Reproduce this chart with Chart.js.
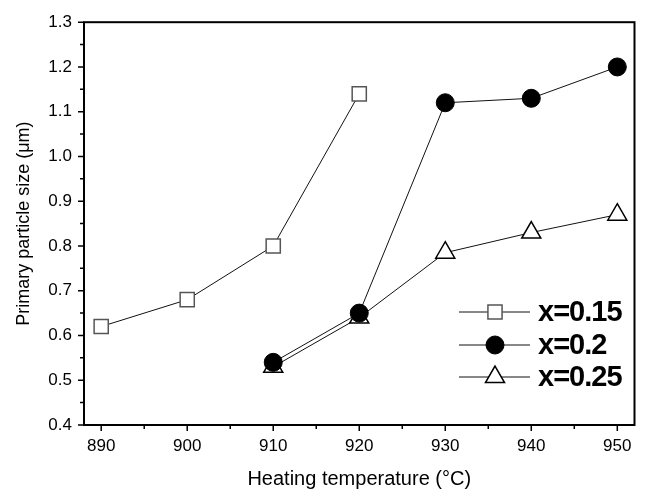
<!DOCTYPE html>
<html>
<head>
<meta charset="utf-8">
<script src="https://cdn.jsdelivr.net/npm/chart.js@4.4.0/dist/chart.umd.min.js"></script>
<style>
  html, body { margin: 0; padding: 0; background: #fff; }
</style>
</head>
<body>
<canvas id="grafico" width="647" height="492"></canvas>
<script>
// dados
const temps015 = [890, 900, 910, 920];
const size015 = [0.62, 0.68, 0.80, 1.14];
const temps02 = [910, 920, 930, 940, 950];
const size02 = [0.54, 0.65, 1.12, 1.13, 1.20];
const temps025 = [910, 920, 930, 940, 950];
const size025 = [0.53, 0.64, 0.785, 0.83, 0.87];
const seriesLabels = ['x=0.15', 'x=0.2', 'x=0.25'];
const xTicks = [890, 900, 910, 920, 930, 940, 950];
const yTicks = [0.4, 0.5, 0.6, 0.7, 0.8, 0.9, 1.0, 1.1, 1.2, 1.3];

const FONT = 'Arial, "Liberation Sans", sans-serif';
Chart.defaults.font.family = FONT;
Chart.defaults.color = '#000';

const toPoints = (xs, ys) => xs.map((v, i) => ({ x: v, y: ys[i] }));

// moldura, ticks maiores/menores e legenda dentro do gráfico
const framePlugin = {
    id: 'frame',
    afterDraw(chart) {
        const { ctx, chartArea: a, scales: { x, y } } = chart;
        ctx.save();
        ctx.strokeStyle = '#000';
        ctx.lineWidth = 2;
        ctx.strokeRect(a.left, a.top, a.right - a.left, a.bottom - a.top);

        ctx.lineWidth = 1.5;
        ctx.beginPath();
        xTicks.forEach((v, i) => {
            const px = x.getPixelForValue(v);
            ctx.moveTo(px, a.bottom); ctx.lineTo(px, a.bottom + 6);
            if (i < xTicks.length - 1) {
                const pm = x.getPixelForValue(v + 5);
                ctx.moveTo(pm, a.bottom); ctx.lineTo(pm, a.bottom + 4);
            }
        });
        yTicks.forEach((v, i) => {
            const py = y.getPixelForValue(v);
            ctx.moveTo(a.left, py); ctx.lineTo(a.left - 6, py);
            if (i < yTicks.length - 1) {
                const pm = y.getPixelForValue(v + 0.05);
                ctx.moveTo(a.left, pm); ctx.lineTo(a.left - 4, pm);
            }
        });
        ctx.stroke();

        // legenda
        const rows = [312, 345, 377];
        chart.data.datasets.forEach((ds, i) => {
            const ly = rows[i];
            ctx.strokeStyle = ds.borderColor;
            ctx.lineWidth = ds.borderWidth;
            ctx.beginPath();
            ctx.moveTo(459, ly); ctx.lineTo(530, ly);
            ctx.stroke();
            ctx.fillStyle = ds.pointBackgroundColor;
            ctx.strokeStyle = ds.pointBorderColor;
            ctx.lineWidth = ds.pointBorderWidth;
            Chart.helpers.drawPoint(ctx, {
                pointStyle: ds.pointStyle,
                radius: ds.pointRadius,
                rotation: 0,
                borderWidth: ds.pointBorderWidth
            }, 495, ly);
            ctx.fillStyle = '#000';
            ctx.font = 'bold 29px ' + FONT;
            ctx.letterSpacing = '-1px';
            ctx.textBaseline = 'middle';
            ctx.textAlign = 'left';
            ctx.fillText(seriesLabels[i], 538, ly + 1);
        });
        ctx.restore();
    }
};

new Chart(document.getElementById('grafico'), {
    type: 'line',
    data: {
        datasets: [
            {
                label: seriesLabels[0],
                data: toPoints(temps015, size015),
                borderColor: '#111', borderWidth: 1,
                pointStyle: 'rect', pointRadius: 10,
                pointBackgroundColor: '#fff', pointBorderColor: '#555', pointBorderWidth: 1.5
            },
            {
                label: seriesLabels[1],
                data: toPoints(temps02, size02),
                borderColor: '#111', borderWidth: 1,
                pointStyle: 'circle', pointRadius: 9,
                pointBackgroundColor: '#000', pointBorderColor: '#000', pointBorderWidth: 1
            },
            {
                label: seriesLabels[2],
                data: toPoints(temps025, size025),
                borderColor: '#111', borderWidth: 1,
                pointStyle: 'triangle', pointRadius: 11,
                pointBackgroundColor: '#fff', pointBorderColor: '#000', pointBorderWidth: 1.5
            }
        ]
    },
    options: {
        responsive: false,
        animation: false,
        layout: { padding: { top: 16, right: 10, left: 0, bottom: 0 } },
        plugins: { legend: { display: false }, tooltip: { enabled: false } },
        scales: {
            x: {
                type: 'linear', min: 888, max: 952,
                afterBuildTicks: s => { s.ticks = xTicks.map(v => ({ value: v })); },
                afterFit: s => { s.height = 67; },
                grid: { display: false, drawTicks: false },
                border: { display: false },
                ticks: { padding: 11, font: { size: 17 }, autoSkip: false, maxRotation: 0 },
                title: { display: true, text: 'Heating temperature (°C)', font: { size: 20 }, padding: { top: 0, bottom: 1 } }
            },
            y: {
                type: 'linear', min: 0.4, max: 1.3,
                afterBuildTicks: s => { s.ticks = yTicks.map(v => ({ value: v })); },
                afterFit: s => { s.width = 84; },
                grid: { display: false, drawTicks: false },
                border: { display: false },
                ticks: { padding: 12, font: { size: 17 }, callback: v => v.toFixed(1) },
                title: { display: true, text: 'Primary particle size (μm)', font: { size: 18 }, padding: { top: 13, bottom: 0 } }
            }
        }
    },
    plugins: [framePlugin]
});
</script>
</body>
</html>
